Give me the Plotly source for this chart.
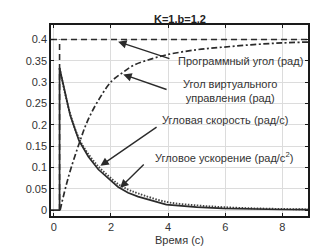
import plotly.graph_objects as go

# Programmed angle (dashed): step at t=0.2 up to 0.4
prog_t = [0.2, 0.2, None, -0.1, 8.9]
prog_y = [0.0, 0.4, None, 0.4, 0.4]

# Virtual control angle (dash-dot)
virt_t = [0.22, 0.5, 0.88, 1.2, 1.6, 2.02, 2.4, 2.78, 3.3, 3.94, 5.0, 5.92, 7.0, 8.0, 8.9]
virt_y = [0.0, 0.075, 0.155, 0.212, 0.262, 0.302, 0.322, 0.339, 0.352, 0.364, 0.376, 0.382, 0.388, 0.392, 0.394]

# Angular velocity (dotted)
vel_t = [0.2, 0.57, 0.88, 1.21, 1.56, 1.91, 2.25, 2.6, 2.95, 3.94, 5.0, 5.92, 7.0, 8.0, 8.9]
vel_y = [0.333, 0.226, 0.168, 0.131, 0.102, 0.080, 0.061, 0.048, 0.039, 0.019, 0.011, 0.0068, 0.004, 0.0025, 0.0015]

# Angular acceleration (solid)
acc_t = [-0.1, 0.2, 0.2, 0.57, 0.88, 1.21, 1.56, 1.91, 2.25, 2.6, 2.95, 3.94, 5.0, 5.92, 7.0, 8.0, 8.9]
acc_y = [0.0, 0.0, 0.333, 0.223, 0.163, 0.125, 0.095, 0.073, 0.054, 0.0405, 0.0315, 0.0128, 0.007, 0.0038, 0.002, 0.0012, 0.0008]

x_ticks = [0, 2, 4, 6, 8]
y_ticks = [0, 0.05, 0.1, 0.15, 0.2, 0.25, 0.3, 0.35, 0.4]
y_labels = ["0", "0.05", "0.1", "0.15", "0.2", "0.25", "0.3", "0.35", "0.4"]

LC = "#2b2b2b"
FONT = "Liberation Sans"
TC = "#333333"

fig = go.Figure()
fig.add_trace(go.Scatter(x=prog_t, y=prog_y, mode="lines",
                         line=dict(color=LC, width=1.6, dash="6px,4px")))
fig.add_trace(go.Scatter(x=virt_t, y=virt_y, mode="lines", line_shape="spline",
                         line=dict(color=LC, width=1.7, dash="6px,2.5px,2px,2.5px")))
fig.add_trace(go.Scatter(x=vel_t, y=vel_y, mode="lines", line_shape="spline",
                         line=dict(color="#444444", width=1.9, dash="1.5px,1.5px")))
fig.add_trace(go.Scatter(x=acc_t, y=acc_y, mode="lines",
                         line=dict(color=LC, width=1.7)))

def arrow(tip, tail):
    fig.add_annotation(x=tip[0], y=tip[1], ax=tail[0], ay=tail[1],
                       xref="x", yref="y", axref="x", ayref="y",
                       text="", showarrow=True, arrowhead=2, arrowsize=1.2,
                       arrowwidth=1.4, arrowcolor=LC)

def label(x, y, txt, anchor="left"):
    fig.add_annotation(x=x, y=y, xref="x", yref="y", text=txt, showarrow=False,
                       xanchor=anchor, yanchor="middle", align="center",
                       font=dict(family=FONT, size=11, color=TC))

arrow((2.25, 0.395), (4.1, 0.354))
label(4.28, 0.349, "Программный угол (рад)")
arrow((2.43, 0.318), (4.0, 0.2815))
label(6.16, 0.280, "Угол виртуального<br>управления (рад)", anchor="center")
arrow((1.63, 0.1036), (3.65, 0.197))
label(3.72, 0.2117, "Угловая скорость (рад/с)")
arrow((2.32, 0.052), (3.2, 0.110))
label(3.48, 0.124, "Угловое ускорение (рад/с<sup>2</sup>)")

axis_common = dict(showline=True, linecolor="#1a1a1a", linewidth=1.5, mirror="ticks",
                   ticks="inside", ticklen=3, tickcolor="#1a1a1a", tickwidth=1.2,
                   showgrid=True, gridcolor="#dcdcdc", gridwidth=1, zeroline=False,
                   tickfont=dict(family=FONT, size=11, color=TC))

fig.update_xaxes(range=[-0.1, 8.9], tickvals=x_ticks,
                 title=dict(text="Время (с)", font=dict(family=FONT, size=11, color=TC), standoff=4),
                 **axis_common)
fig.update_yaxes(range=[-0.014, 0.434], tickvals=y_ticks, ticktext=y_labels, **axis_common)

fig.add_annotation(x=0.5, y=1, xref="paper", yref="paper", yshift=6,
                   text="<b>K=1,b=1.2</b>", showarrow=False,
                   xanchor="center", yanchor="middle",
                   font=dict(family=FONT, size=11, color="#222222"))

fig.update_layout(
    width=331, height=249,
    margin=dict(l=43, r=31, t=17, b=34),
    paper_bgcolor="white", plot_bgcolor="white",
    showlegend=False,
)

fig.write_html("out.html")
